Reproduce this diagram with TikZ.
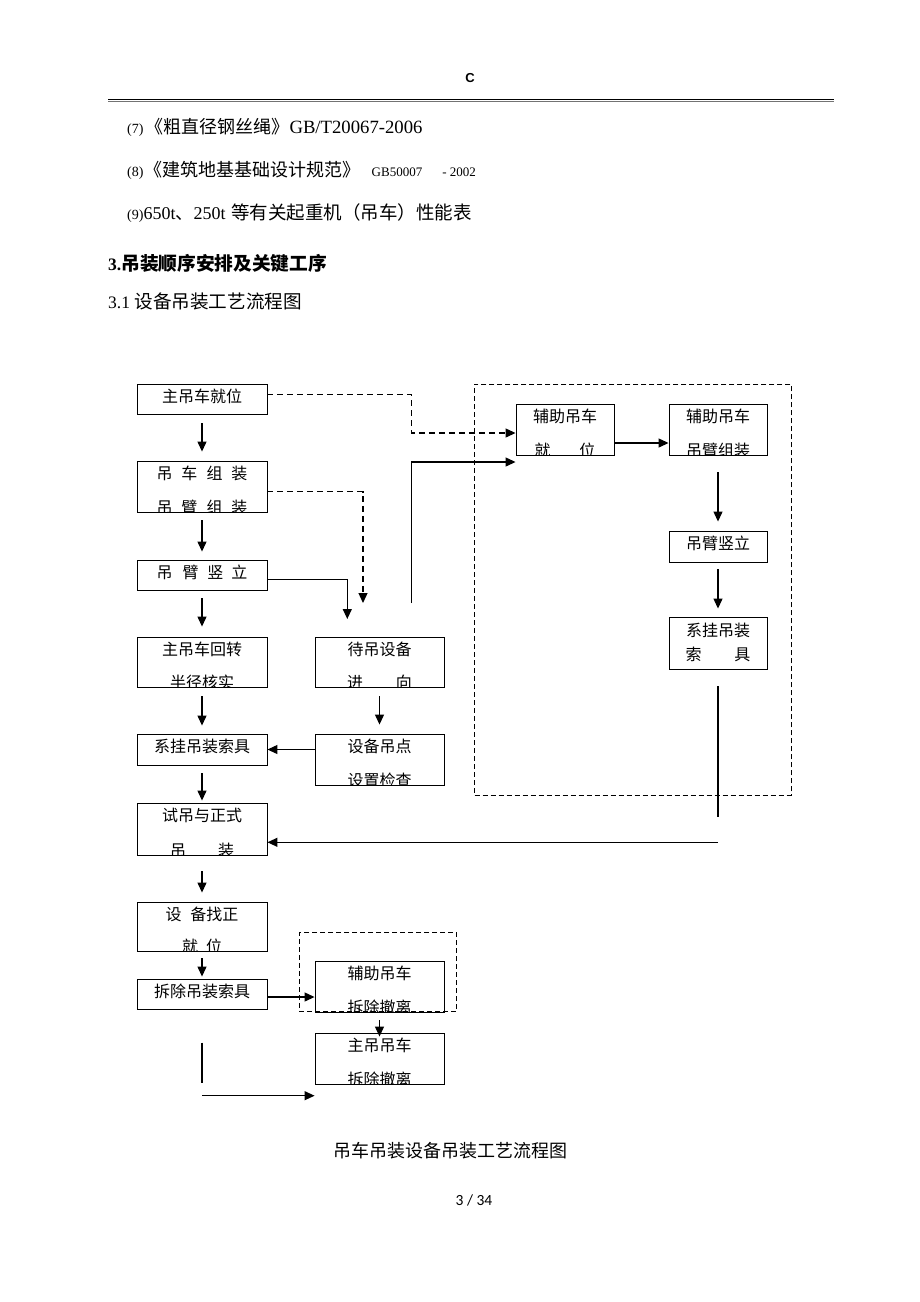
\documentclass[tikz,border=0pt]{standalone}
\usepackage{fontspec}
\setmainfont{Liberation Serif}
\newfontfamily\cjk{Noto Sans CJK SC}
\newfontfamily\hdr{Liberation Sans}
\newfontfamily\pgn{Carlito}
\usetikzlibrary{arrows.meta,fit}
\tikzset{
  box/.style={draw,line width=0.9pt,inner sep=0pt},
  txt/.style={inner sep=0pt,font=\cjk\fontsize{16}{16}\selectfont},
  >={Triangle[length=10pt,width=9pt]},
  arr/.style={line width=1.2pt,->},
  ln/.style={line width=1.2pt},
  dl/.style={line width=1.2pt,dash pattern=on 6pt off 4pt},
  dr/.style={draw,inner sep=0pt,line width=1pt,dash pattern=on 5pt off 3pt},
  pline/.style={anchor=base west,inner sep=0pt}
}
\newcommand\onebox[6]{%
  \node[box,fit={(#2,#3) (#4,#5)}] (#1) {};
  \node[txt] (#1t) at ({(#2+#4)/2},{#3+12.5}) {#6};}
\newcommand\twobox[7]{%
  \node[box,fit={(#2,#3) (#4,#5)}] (#1) {};
  \begin{scope}
    \clip (#2,#3) rectangle (#4,#5);
    \node[txt] (#1a) at ({(#2+#4)/2},{#3+12.5}) {#6};
    \node[txt] (#1b) at ({(#2+#4)/2},{#5-4.5}) {#7};
  \end{scope}}
\begin{document}
\begin{tikzpicture}[x=1pt,y=-1pt]
\useasboundingbox (0,0) rectangle (920,1302);
\fill[white] (0,0) rectangle (920,1302);
% header
\node[inner sep=0pt,font=\hdr\bfseries\fontsize{13}{13}\selectfont] (hc) at (470,78.5) {C};
\draw[line width=1.4pt] (108,99.2) -- (834,99.2);
\draw[line width=1pt,black!55] (108,101.6) -- (834,101.6);
% text lines
\node[pline] (l7) at (127,133) {\fontsize{14}{14}\selectfont(7)\hspace{2pt}\cjk\fontsize{18}{18}\selectfont《粗直径钢丝绳》\rmfamily\fontsize{18.7}{18.7}\selectfont GB/T20067-2006};
\node[pline] (l8) at (127,176) {\fontsize{14}{14}\selectfont(8)\hspace{1pt}\cjk\fontsize{18}{18}\selectfont《建筑地基基础设计规范》};
\node[pline] (l8b) at (371.5,176) {\fontsize{13}{13}\selectfont GB50007\hspace{20pt}- 2002};
\node[pline] (l9) at (127,219) {\fontsize{14}{14}\selectfont(9)\fontsize{18}{18}\selectfont 650t\cjk\fontsize{18}{18}\selectfont 、\rmfamily\fontsize{18}{18}\selectfont 250t};
\node[pline] (l9b) at (231,219) {\cjk\fontsize{18.5}{18.5}\selectfont 等有关起重机（吊车）性能表};
\node[pline] (h3) at (108,270) {\bfseries\fontsize{17.5}{17.5}\selectfont 3.\cjk\fontsize{18.7}{18.7}\selectfont 吊装顺序安排及关键工序};
\node[pline] (h31) at (108,308) {\fontsize{17.5}{17.5}\selectfont 3.1 \cjk\fontsize{18.6}{18.6}\selectfont 设备吊装工艺流程图};
% groups
\node[dr,fit={(474.7,384) (791,795)}] (g1) {};
\node[dr,fit={(299.3,932.7) (456.7,1011.7)}] (g2) {};
% boxes
\onebox{A}{137}{384}{267}{414}{主吊车就位}
\twobox{B}{137}{461}{267}{512}{吊\hspace{9pt}车\hspace{9pt}组\hspace{9pt}装}{吊\hspace{9pt}臂\hspace{9pt}组\hspace{9pt}装}
\onebox{C}{137}{560}{267}{590}{吊\hspace{10pt}臂\hspace{9pt}竖\hspace{8pt}立}
\twobox{D}{137}{637}{267}{687}{主吊车回转}{半径核实}
\twobox{E}{315}{637}{444}{687}{待吊设备}{进\hspace{33pt}向}
\twobox{F}{516}{404}{614}{455}{辅助吊车}{就\hspace{29pt}位}
\twobox{G}{669}{404}{767}{455}{辅助吊车}{吊臂组装}
\onebox{H}{669}{531}{767}{562}{吊臂竖立}
\node[box,fit={(669,617) (767,669)}] (I) {};
\node[txt] (Ia) at (718,630.7) {系挂吊装};
\node[txt] (Ib) at (718,654) {索\hspace{32.7pt}具};
\onebox{J}{137}{734}{267}{765}{系挂吊装索具}
\twobox{K}{315}{734}{444}{785}{设备吊点}{设置检查}
\twobox{L}{137}{803}{267}{855}{试吊与正式}{吊\hspace{32pt}装}
\twobox{M}{137}{902}{267}{951}{设\hspace{9pt}备找正}{就\hspace{8pt}位}
\onebox{N}{137}{979}{267}{1009}{拆除吊装索具}
\twobox{O}{315}{961}{444}{1012}{辅助吊车}{拆除撤离}
\twobox{P}{315}{1033}{444}{1084}{主吊吊车}{拆除撤离}
% free ends
\coordinate (dA) at (411.5,433);
\coordinate (bE) at (363,603);
\coordinate (cE) at (347.3,619);
\coordinate (sE) at (411.5,603);
\coordinate (sC) at (411.5,462);
\coordinate (iE) at (718,817);
\coordinate (lS) at (718,842.3);
\coordinate (v1) at (202,1042.7);
\coordinate (v2) at (202,1082.7);
\coordinate (h1) at (202,1095.7);
% connectors
\draw[arr,shorten <=9pt,shorten >=9pt] (A) -- (B);
\draw[arr,shorten <=8pt,shorten >=8pt] (B) -- (C);
\draw[arr,shorten <=8pt,shorten >=10pt] (C) -- (D);
\draw[arr,shorten <=9pt,shorten >=8pt] (D) -- (J);
\draw[arr,shorten <=8pt,shorten >=2pt] (J) -- (L);
\draw[arr,shorten <=16pt,shorten >=9pt] (L) -- (M);
\draw[arr,shorten <=7pt,shorten >=2pt] (M) -- (N);
\draw[arr,shorten <=9pt,shorten >=9pt] (E) -- (K);
\draw[arr] (K.west |- J.east) -- (J.east);
\draw[arr] ([yshift=-13.5pt]F.east) -- ([yshift=-13.5pt]G.west);
\draw[arr,shorten <=17pt,shorten >=9pt] (G) -- (H);
\draw[arr,shorten <=7pt,shorten >=8pt] (H) -- (I);
\draw[ln,shorten <=17pt] (I.south) -- (iE);
\draw[arr] (lS) -- (lS -| L.east);
\draw[arr] ([yshift=-3pt]N.east) -- ([yshift=-3pt]N.east -| O.west);
\draw[arr,shorten <=8pt,shorten >=-4pt] (O) -- (P);
\draw[dl,->] ([yshift=4.5pt]A.east) -| (dA) -- (dA -| F.west);
\draw[dl,->] ([yshift=-5pt]B.east) -| (bE);
\draw[ln,->] ([yshift=-4.3pt]C.east) -| (cE);
\draw[ln,->] (sE) -- (sC) -- (sC -| F.west);
\draw[ln] (v1) -- (v2);
\draw[arr] (h1) -- (h1 -| P.west);
% caption and page number
\node[inner sep=0pt,font=\cjk\fontsize{18}{18}\selectfont] (cap) at (450,1151) {吊车吊装设备吊装工艺流程图};
\node[anchor=base,inner sep=0pt,font=\pgn\fontsize{15.5}{15.5}\selectfont] (pg) at (474,1205) {3 / 34};
\end{tikzpicture}
\end{document}
